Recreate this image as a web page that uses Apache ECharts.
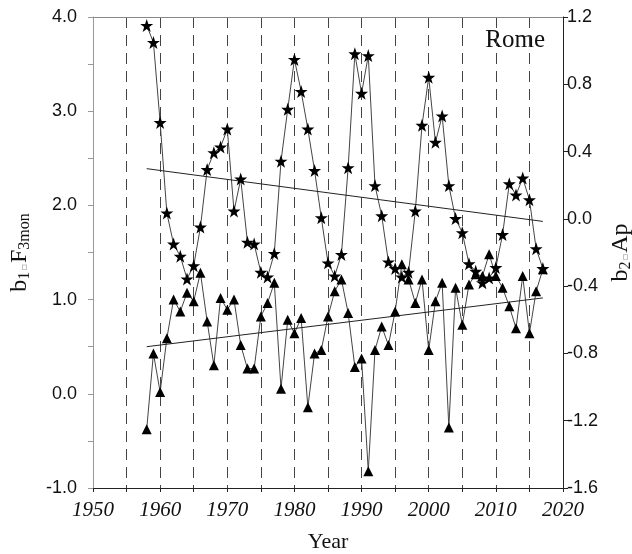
<!DOCTYPE html>
<html>
<head>
<meta charset="utf-8">
<script src="https://cdn.jsdelivr.net/npm/echarts@6/dist/echarts.min.js"></script>
<style>
  html, body { margin: 0; padding: 0; background: #fff; }
  #main { width: 632px; height: 554px; }
</style>
</head>
<body>
<div id="main"></div>
<script>
// 年份
var years = [1958, 1959, 1960, 1961, 1962, 1963, 1964, 1965, 1966, 1967,
  1968, 1969, 1970, 1971, 1972, 1973, 1974, 1975, 1976, 1977,
  1978, 1979, 1980, 1981, 1982, 1983, 1984, 1985, 1986, 1987,
  1988, 1989, 1990, 1991, 1992, 1993, 1994, 1995, 1996, 1997,
  1998, 1999, 2000, 2001, 2002, 2003, 2004, 2005, 2006, 2007,
  2008, 2009, 2010, 2011, 2012, 2013, 2014, 2015, 2016, 2017];
// b1·F3mon (left axis, stars)
var f3mon = [3.91, 3.73, 2.88, 1.92, 1.59, 1.46, 1.22, 1.36, 1.77, 2.38,
  2.56, 2.62, 2.81, 1.94, 2.28, 1.61, 1.59, 1.29, 1.24, 1.49,
  2.47, 3.02, 3.55, 3.21, 2.81, 2.37, 1.87, 1.39, 1.25, 1.48,
  2.40, 3.61, 3.19, 3.59, 2.21, 1.89, 1.40, 1.33, 1.24, 1.29,
  1.94, 2.85, 3.36, 2.67, 2.95, 2.21, 1.86, 1.71, 1.38, 1.30,
  1.18, 1.23, 1.34, 1.69, 2.23, 2.11, 2.29, 2.06, 1.54, 1.33];
// b2·Ap (right axis, triangles)
var ap = [-1.25, -0.80, -1.03, -0.71, -0.48, -0.55, -0.44, -0.49, -0.32, -0.61,
  -0.87, -0.47, -0.54, -0.48, -0.75, -0.89, -0.89, -0.58, -0.50, -0.38,
  -1.01, -0.60, -0.68, -0.59, -1.12, -0.80, -0.78, -0.58, -0.43, -0.36,
  -0.56, -0.88, -0.83, -1.50, -0.78, -0.64, -0.75, -0.55, -0.27, -0.36,
  -0.50, -0.36, -0.78, -0.49, -0.38, -1.24, -0.41, -0.63, -0.39, -0.33,
  -0.34, -0.21, -0.34, -0.41, -0.52, -0.65, -0.34, -0.68, -0.43, -0.30];
// 趋势线 (start, end)
var trendYears = [1958, 2017];
var f3monTrend = [2.39, 1.83];
var apTrend = [-0.76, -0.47];

var leftTicks = [-1, 0, 1, 2, 3, 4];

function pairs(xs, ys) {
  return xs.map(function (x, i) { return [x, ys[i]]; });
}

var starPath = 'path://M50,0 L61.8,35.1 L97.6,35.1 L68.8,57 L79.4,91 L50,70.5 L20.6,91 L31.2,57 L2.4,35.1 L38.2,35.1 Z';

var nameRich = {
  b: { fontFamily: 'Liberation Serif', fontSize: 24, color: '#111' },
  s: { fontFamily: 'Liberation Serif', fontSize: 16, color: '#111', padding: [10, 0, 0, 0] },
  d: { fontFamily: 'DejaVu Sans', fontSize: 10, color: '#999', padding: [9, 1, 0, 1] }
};

var chart = echarts.init(document.getElementById('main'));
var option = {
  animation: false,
  grid: { left: 93, right: 69, top: 17, bottom: 66, outerBoundsMode: 'none', containLabel: false },
  xAxis: [
    {
      type: 'value',
      min: 1950,
      max: 2020,
      interval: 5,
      name: 'Year',
      nameLocation: 'middle',
      nameGap: 43,
      nameTextStyle: { fontFamily: 'Liberation Serif', fontSize: 22, color: '#111' },
      axisLine: { onZero: false, lineStyle: { color: '#222', width: 1 } },
      axisTick: { length: 4, lineStyle: { color: '#222' } },
      axisLabel: {
        margin: 12,
        fontFamily: 'Liberation Serif',
        fontStyle: 'italic',
        fontSize: 21,
        color: '#111',
        formatter: function (v) { return v % 10 === 0 ? String(v) : ''; }
      },
      splitLine: { show: true, lineStyle: { color: '#444', width: 1, type: [11, 7] } }
    },
    {
      type: 'value',
      position: 'top',
      min: 1950,
      max: 2020,
      axisLine: { onZero: false, lineStyle: { color: '#888', width: 1 } },
      axisTick: { show: false },
      axisLabel: { show: false },
      splitLine: { show: false }
    }
  ],
  yAxis: [
    {
      type: 'value',
      min: -1,
      max: 4,
      interval: 0.5,
      position: 'left',
      name: '{b|b}{s|1}{d|▫}{b|F}{s|3mon}',
      nameLocation: 'middle',
      nameGap: 60,
      nameRotate: 90,
      nameTextStyle: { rich: nameRich },
      axisLine: { show: true, onZero: false, lineStyle: { color: '#999', width: 1 } },
      axisTick: { show: true, length: 5, lineStyle: { color: '#999' } },
      axisLabel: {
        margin: 16,
        fontFamily: 'Liberation Sans',
        fontSize: 18,
        color: '#111',
        formatter: function (v) {
          return leftTicks.indexOf(Math.round(v * 10) / 10) >= 0 ? v.toFixed(1) : '';
        }
      },
      splitLine: { show: false }
    },
    {
      type: 'value',
      min: -1.6,
      max: 1.2,
      interval: 0.4,
      position: 'right',
      name: '{b|b}{s|2}{d|▫}{b|Ap}',
      nameLocation: 'middle',
      nameGap: 44,
      nameRotate: 90,
      nameTextStyle: { rich: nameRich },
      axisLine: { show: true, onZero: false, lineStyle: { color: '#222', width: 1 } },
      axisTick: { show: true, length: 5, lineStyle: { color: '#222' } },
      axisLabel: {
        margin: 4,
        fontFamily: 'Liberation Sans',
        fontSize: 18,
        color: '#111',
        formatter: function (v) { return v.toFixed(1); }
      },
      splitLine: { show: false }
    }
  ],
  graphic: [
    {
      type: 'text',
      right: 87,
      top: 28,
      style: { text: 'Rome', font: '25px "Liberation Serif"', fill: '#111' }
    }
  ],
  series: [
    {
      name: 'F3mon',
      type: 'line',
      yAxisIndex: 0,
      data: pairs(years, f3mon),
      symbol: starPath,
      symbolSize: 13,
      itemStyle: { color: '#000' },
      lineStyle: { color: '#444', width: 1 },
      z: 3
    },
    {
      name: 'Ap',
      type: 'line',
      yAxisIndex: 1,
      data: pairs(years, ap),
      symbol: 'triangle',
      symbolSize: 10,
      itemStyle: { color: '#000' },
      lineStyle: { color: '#444', width: 1 },
      z: 3
    },
    {
      type: 'line',
      yAxisIndex: 0,
      data: pairs(trendYears, f3monTrend),
      symbol: 'none',
      lineStyle: { color: '#222', width: 1 }
    },
    {
      type: 'line',
      yAxisIndex: 1,
      data: pairs(trendYears, apTrend),
      symbol: 'none',
      lineStyle: { color: '#222', width: 1 }
    }
  ]
};
chart.setOption(option);
</script>
</body>
</html>
